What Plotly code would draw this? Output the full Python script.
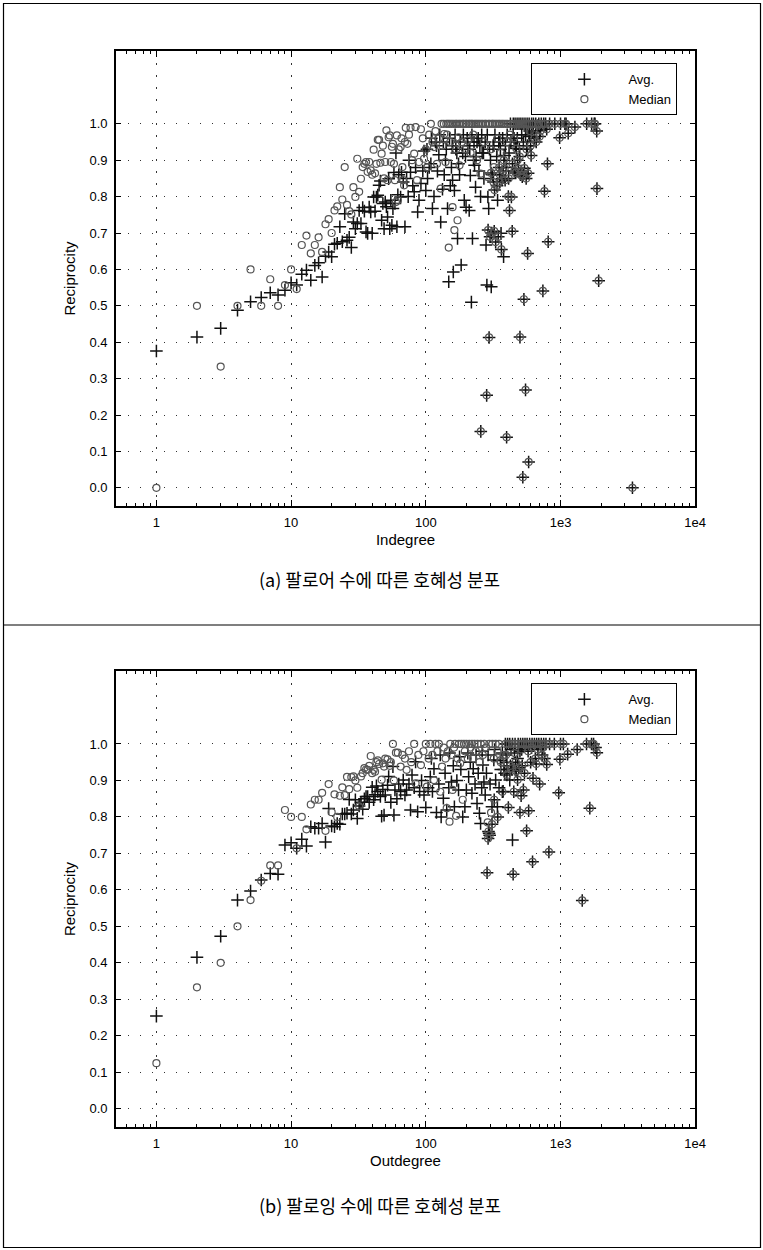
import math
import plotly.graph_objects as go

# ---------------- data (degree, reciprocity) ----------------
# Panel (a): Indegree
AVG_A = [
    (1, 0.376), (2, 0.414), (3, 0.438), (4, 0.488), (5, 0.511), (6, 0.523), (7, 0.536), (8, 0.530), (9, 0.543), (10, 0.563),
    (11, 0.557), (12, 0.587), (13, 0.598), (14, 0.570), (15, 0.611), (16, 0.618), (17, 0.579), (18, 0.636), (19, 0.648), (20, 0.635),
    (21, 0.669), (22, 0.672), (23, 0.717), (24, 0.676), (25, 0.753), (26, 0.680), (27, 0.688), (28, 0.660), (29, 0.730), (30, 0.712),
    (31, 0.726), (32, 0.762), (33, 0.726), (34, 0.770), (35, 0.760), (36, 0.703), (37, 0.699), (38, 0.771), (39, 0.758), (40, 0.699),
    (41, 0.799), (42, 0.760), (43, 0.799), (44, 0.804), (45, 0.831), (46, 0.843), (47, 0.735), (48, 0.781), (49, 0.712), (50, 0.785),
    (51, 0.772), (52, 0.744), (53, 0.849), (54, 0.712), (55, 0.790), (56, 0.721), (57, 0.767), (58, 0.866), (59, 0.781), (60, 0.920),
    (61, 0.717), (62, 0.805), (63, 0.860), (65, 0.799), (66, 0.867), (68, 0.840), (70, 0.717), (72, 0.850), (74, 0.800), (75, 0.900),
    (77, 0.867), (80, 0.830), (82, 0.813), (84, 0.880), (87, 0.758), (89, 0.790), (92, 0.836), (95, 0.870), (97, 0.925), (100, 0.817),
    (102, 0.930), (103, 0.850), (106, 0.880), (109, 0.890), (110, 0.960), (112, 0.767), (115, 0.800), (118, 0.950), (120, 0.940), (122, 0.870),
    (125, 0.915), (127, 0.970), (129, 0.730), (133, 0.820), (135, 0.950), (137, 0.860), (140, 0.900), (142, 0.930), (145, 0.767), (148, 0.566),
    (150, 0.960), (152, 0.830), (155, 0.880), (157, 0.940), (158, 0.845), (160, 0.593), (163, 0.817), (165, 0.970), (167, 0.930), (170, 0.920),
    (172, 0.685), (175, 0.890), (178, 0.860), (180, 0.950), (183, 0.612), (188, 0.920), (190, 0.970), (193, 0.790), (197, 0.910), (199, 0.771),
    (203, 0.960), (205, 0.940), (210, 0.762), (212, 0.930), (214, 0.858), (218, 0.510), (220, 0.970), (222, 0.685), (226, 0.900), (228, 0.950),
    (230, 0.886), (234, 0.826), (236, 0.910), (240, 0.950), (245, 0.960), (248, 0.870), (252, 0.940), (255, 0.800), (260, 0.970), (262, 0.920),
    (268, 0.920), (270, 0.850), (276, 0.950), (280, 0.667), (284, 0.557), (286, 0.970), (289, 0.799), (293, 0.767), (297, 0.930), (302, 0.900),
    (306, 0.552), (312, 0.860), (316, 0.940), (320, 0.940), (326, 0.970), (336, 0.910), (341, 0.790), (348, 0.950), (352, 0.960), (358, 0.930),
    (362, 0.699), (368, 0.849), (372, 0.960), (378, 0.635), (385, 0.913), (390, 0.940), (395, 0.880), (402, 0.970), (415, 0.920), (428, 0.950),
    (445, 0.970), (462, 0.940), (478, 0.960), (495, 0.930), (515, 0.970), (530, 0.950), (550, 0.970), (568, 0.940), (585, 0.965), (620, 0.975),
]
MED_A = [
    (1, 0.000), (2, 0.500), (3, 0.333), (4, 0.500), (5, 0.600), (6, 0.500), (7, 0.573), (8, 0.500), (9, 0.557), (10, 0.600),
    (11, 0.546), (12, 0.667), (13, 0.693), (14, 0.644), (15, 0.667), (16, 0.688), (17, 0.648), (18, 0.724), (19, 0.738), (20, 0.700),
    (21, 0.762), (22, 0.773), (23, 0.826), (24, 0.792), (25, 0.881), (26, 0.777), (27, 0.760), (28, 0.751), (29, 0.826), (30, 0.799),
    (31, 0.904), (32, 0.813), (33, 0.849), (34, 0.881), (35, 0.890), (36, 0.895), (37, 0.868), (38, 0.895), (39, 0.872), (40, 0.860),
    (41, 0.929), (42, 0.864), (43, 0.890), (44, 0.956), (45, 0.956), (46, 0.893), (47, 0.918), (48, 0.940), (49, 0.850), (50, 0.895),
    (51, 0.982), (52, 0.845), (53, 0.963), (54, 0.968), (55, 0.895), (56, 0.937), (57, 0.945), (58, 0.890), (59, 0.845), (60, 0.785),
    (61, 0.968), (62, 0.790), (63, 0.930), (65, 0.936), (66, 0.960), (67, 0.881), (68, 0.845), (69, 0.831), (70, 0.950), (71, 0.989),
    (73, 0.945), (75, 0.970), (77, 0.989), (79, 0.900), (82, 0.918), (84, 0.991), (86, 0.845), (89, 0.895), (92, 0.985), (95, 0.960),
    (97, 0.904), (100, 0.930), (103, 0.881), (106, 0.970), (109, 1.000), (112, 0.950), (115, 0.936), (118, 0.980), (121, 0.890), (125, 0.960),
    (129, 0.822), (131, 1.000), (133, 0.940), (136, 1.000), (137, 0.972), (140, 0.895), (142, 1.000), (144, 0.970), (146, 1.000), (148, 0.660),
    (150, 1.000), (152, 0.950), (155, 1.000), (158, 0.771), (160, 1.000), (163, 0.708), (166, 1.000), (168, 0.930), (170, 1.000), (172, 0.735),
    (175, 0.963), (176, 1.000), (178, 0.886), (181, 1.000), (185, 0.950), (188, 1.000), (191, 1.000), (195, 0.930), (198, 1.000), (201, 1.000),
    (205, 0.954), (208, 1.000), (212, 1.000), (215, 0.920), (218, 1.000), (222, 1.000), (225, 0.970), (230, 1.000), (236, 1.000), (240, 0.900),
    (243, 1.000), (250, 1.000), (255, 0.863), (258, 1.000), (265, 1.000), (270, 0.950), (275, 1.000), (280, 1.000), (288, 0.854), (292, 1.000),
    (298, 1.000), (304, 0.930), (310, 1.000), (315, 1.000), (320, 0.881), (325, 1.000), (335, 1.000), (340, 0.960), (346, 1.000), (355, 1.000),
    (360, 0.920), (367, 1.000), (378, 1.000), (385, 0.877), (392, 1.000), (400, 0.950), (405, 1.000), (420, 0.970),
]
# degrees where average and median coincide (drawn by both series)
BOTH_A = [
    (256, 0.155), (283, 0.254), (290, 0.708), (295, 0.413), (300, 0.690), (308, 0.700), (322, 0.705), (330, 0.675), (345, 0.690), (364, 0.655),
    (398, 0.139), (410, 0.800), (418, 0.762), (425, 1.000), (432, 0.799), (438, 0.705), (446, 1.000), (452, 0.960), (460, 1.000), (470, 0.932),
    (476, 1.000), (480, 0.900), (488, 0.877), (492, 1.000), (500, 0.414), (504, 0.860), (508, 1.000), (512, 0.870), (520, 0.855), (525, 0.029),
    (526, 1.000), (535, 0.518), (540, 0.878), (545, 1.000), (550, 0.269), (556, 0.850), (565, 1.000), (570, 0.644), (575, 0.864), (580, 0.071),
    (585, 1.000), (590, 0.980), (605, 0.913), (610, 1.000), (630, 1.000), (640, 0.960), (655, 1.000), (680, 0.995), (690, 1.000), (710, 0.981),
    (720, 1.000), (740, 0.541), (750, 1.000), (760, 0.815), (775, 1.000), (790, 0.985), (800, 0.890), (810, 0.676), (830, 1.000), (907, 1.000),
    (985, 0.962), (1000, 1.000), (1077, 1.000), (1100, 1.000), (1141, 0.974), (1279, 0.991), (1564, 1.000), (1703, 1.000), (1780, 1.000), (1804, 1.000),
    (1857, 0.980), (1865, 0.822), (1920, 0.569), (3420, 0.000),
    (305, 0.865), (318, 0.840), (338, 0.830), (355, 0.860), (375, 0.870), (388, 0.845), (412, 0.850), (455, 0.870), (465, 0.865), (530, 0.860),
    (350, 0.880), (380, 0.900), (440, 0.890), (498, 0.910), (560, 0.930), (600, 0.940), (660, 0.950), (700, 0.965), (324, 0.818), (352, 0.840),
]

# Panel (b): Outdegree
AVG_B = [
    (1, 0.254), (2, 0.415), (3, 0.473), (4, 0.572), (5, 0.597), (6, 0.627), (7, 0.645), (8, 0.643), (9, 0.723), (10, 0.729),
    (11, 0.714), (12, 0.739), (13, 0.720), (14, 0.773), (15, 0.769), (16, 0.769), (17, 0.782), (18, 0.731), (19, 0.823), (20, 0.775),
    (21, 0.773), (22, 0.782), (23, 0.780), (24, 0.808), (25, 0.808), (26, 0.810), (27, 0.848), (28, 0.808), (29, 0.819), (30, 0.847),
    (31, 0.796), (32, 0.830), (33, 0.840), (34, 0.821), (35, 0.850), (36, 0.856), (37, 0.856), (38, 0.840), (40, 0.881), (41, 0.847),
    (42, 0.861), (43, 0.885), (44, 0.870), (46, 0.856), (47, 0.802), (48, 0.875), (49, 0.805), (50, 0.860), (52, 0.887), (53, 0.911),
    (55, 0.840), (57, 0.938), (58, 0.805), (59, 0.874), (61, 0.850), (63, 0.890), (65, 0.870), (68, 0.901), (70, 0.860), (72, 0.874),
    (75, 0.890), (77, 0.819), (79, 0.915), (82, 0.880), (84, 0.951), (87, 0.814), (90, 0.870), (93, 0.900), (97, 0.860), (100, 0.826),
    (104, 0.880), (108, 0.910), (110, 0.960), (112, 0.870), (115, 0.932), (120, 0.812), (125, 0.890), (128, 0.970), (130, 0.800), (135, 0.851),
    (139, 0.920), (143, 0.819), (148, 0.880), (150, 0.975), (155, 0.896), (160, 0.940), (163, 0.828), (170, 0.900), (175, 0.874), (178, 0.965),
    (182, 0.930), (188, 0.800), (195, 0.828), (200, 0.874), (205, 0.975), (208, 0.910), (214, 0.950), (220, 0.865), (225, 0.932), (232, 0.890),
    (236, 0.970), (240, 0.837), (245, 0.920), (250, 0.810), (255, 0.782), (260, 0.880), (262, 0.980), (265, 0.942), (270, 0.896), (276, 0.860),
    (282, 0.920), (290, 0.970), (295, 0.755), (300, 0.890), (310, 0.828), (320, 0.956), (325, 0.985), (330, 0.901), (340, 0.828), (350, 0.880),
    (360, 0.930), (370, 0.975), (375, 0.870), (385, 0.920), (400, 0.950), (420, 0.901), (430, 0.985), (440, 0.737), (460, 0.930), (480, 0.960),
    (500, 0.980),
]
MED_B = [
    (1, 0.125), (2, 0.333), (3, 0.400), (4, 0.500), (5, 0.572), (6, 0.625), (7, 0.667), (8, 0.667), (9, 0.819), (10, 0.800),
    (11, 0.714), (12, 0.800), (13, 0.766), (14, 0.834), (15, 0.847), (16, 0.847), (17, 0.866), (18, 0.762), (19, 0.890), (20, 0.813),
    (21, 0.862), (22, 0.800), (23, 0.858), (24, 0.881), (25, 0.860), (26, 0.910), (27, 0.876), (28, 0.909), (29, 0.911), (30, 0.900),
    (31, 0.880), (32, 0.829), (33, 0.911), (34, 0.920), (35, 0.934), (36, 0.930), (37, 0.929), (38, 0.940), (39, 0.967), (40, 0.920),
    (41, 0.929), (42, 0.924), (43, 0.950), (44, 0.955), (45, 0.945), (47, 0.902), (48, 0.947), (49, 0.938), (50, 0.960), (52, 0.958),
    (54, 0.940), (55, 0.950), (57, 1.000), (58, 0.900), (60, 0.976), (62, 0.976), (65, 0.938), (67, 0.970), (70, 0.960), (72, 0.929),
    (75, 0.980), (78, 0.950), (82, 1.000), (84, 0.892), (88, 0.970), (92, 0.942), (96, 0.980), (100, 1.000), (102, 0.883), (105, 0.960),
    (108, 1.000), (112, 0.970), (115, 0.901), (118, 1.000), (122, 0.980), (125, 1.000), (128, 0.869), (132, 0.938), (136, 0.990), (140, 0.960),
    (143, 0.824), (146, 0.980), (150, 0.787), (152, 1.000), (155, 0.970), (158, 0.874), (162, 0.990), (165, 1.000), (168, 0.803), (172, 0.960),
    (176, 1.000), (180, 0.947), (184, 1.000), (188, 0.847), (192, 1.000), (195, 0.980), (200, 1.000), (205, 0.960), (210, 1.000), (215, 0.990),
    (220, 1.000), (225, 0.960), (230, 1.000), (235, 0.980), (242, 1.000), (250, 0.950), (256, 1.000), (265, 0.970), (272, 1.000), (280, 0.990),
    (288, 0.785), (296, 1.000), (305, 0.812), (312, 1.000), (320, 0.960), (330, 1.000), (340, 0.980), (350, 1.000), (360, 0.950), (380, 0.970),
]
BOTH_B = [
    (285, 0.647), (290, 0.741), (292, 0.760), (298, 0.750), (310, 0.780), (322, 0.847), (342, 0.800), (358, 0.955), (370, 0.869), (390, 1.000),
    (405, 1.000), (410, 0.826), (420, 1.000), (435, 0.933), (440, 1.000), (445, 0.643), (450, 0.869), (460, 1.000), (480, 0.902), (485, 1.000),
    (500, 0.812), (505, 1.000), (510, 0.858), (525, 1.000), (530, 0.874), (545, 1.000), (560, 0.762), (565, 1.000), (580, 0.817), (590, 1.000),
    (615, 1.000), (620, 0.677), (625, 0.906), (640, 1.000), (665, 1.000), (690, 1.000), (700, 0.890), (720, 1.000), (750, 1.000), (780, 1.000),
    (790, 0.944), (820, 0.704), (830, 1.000), (900, 1.000), (970, 0.866), (990, 0.958), (1000, 1.000), (1050, 1.000), (1130, 0.972), (1330, 0.985),
    (1450, 0.571), (1560, 1.000), (1650, 0.824), (1700, 1.000), (1760, 1.000), (1820, 0.990), (1860, 0.976),
    (380, 0.930), (400, 0.915), (425, 0.940), (465, 0.950), (470, 0.925), (490, 0.935), (520, 0.940), (540, 0.920), (600, 0.950), (650, 0.960),
    (660, 0.945), (730, 0.970), (760, 0.960), (395, 0.970), (455, 0.975), (515, 0.985), (575, 0.980), (610, 0.990), (680, 0.985), (740, 0.990),
]

X_TICKS = [1, 10, 100, 1000, 10000]
X_TICK_TEXT = ["1", "10", "100", "1e3", "1e4"]
Y_TICKS = [0.0, 0.1, 0.2, 0.3, 0.4, 0.5, 0.6, 0.7, 0.8, 0.9, 1.0]
Y_TICK_TEXT = ["0.0", "0.1", "0.2", "0.3", "0.4", "0.5", "0.6", "0.7", "0.8", "0.9", "1.0"]
MINOR_MANTISSA = [2, 3, 4, 5, 6, 7, 8, 9]
DECADES = [1, 10, 100, 1000]
X_MINOR = [0.6, 0.7, 0.8, 0.9] + [d * m for d in DECADES for m in MINOR_MANTISSA]

CAPTION_A = "(a) 팔로어 수에 따른 호혜성 분포"
CAPTION_B = "(b) 팔로잉 수에 따른 호혜성 분포"

# ---------------- figure ----------------
REF_W, H = 763, 1250          # reference picture size (positions below are in its pixels)
FIG_W = 775                    # rendered width (page is captured slightly wider, then fitted)
FONT = "Liberation Sans, Arial, Helvetica, sans-serif"

fig = go.Figure()


def add_panel(avg, med, both, xa, ya, leg):
    ax = [p[0] for p in avg] + [p[0] for p in both]
    ay = [p[1] for p in avg] + [p[1] for p in both]
    mx = [p[0] for p in med] + [p[0] for p in both]
    my = [p[1] for p in med] + [p[1] for p in both]
    fig.add_trace(go.Scatter(
        x=ax, y=ay, mode="markers", name="Avg.", xaxis=xa, yaxis=ya, legend=leg,
        marker=dict(symbol="cross-thin", size=9, color="#111111",
                    line=dict(width=1.5, color="#111111")),
        cliponaxis=False,
    ))
    fig.add_trace(go.Scatter(
        x=mx, y=my, mode="markers", name="Median", xaxis=xa, yaxis=ya, legend=leg,
        marker=dict(symbol="circle-open", size=7, color="#555555",
                    line=dict(width=1.2, color="#555555")),
        cliponaxis=False,
    ))


add_panel(AVG_A, MED_A, BOTH_A, "x", "y", "legend")
add_panel(AVG_B, MED_B, BOTH_B, "x2", "y2", "legend2")

px_x = lambda v: v / REF_W
px_y = lambda v: 1 - v / H

x_dom = [px_x(115.7), px_x(694.3)]
dom_a = [px_y(506), px_y(51)]
dom_b = [px_y(1127), px_y(671)]

grid_dash = "1.5px,10.5px"


def xaxis_cfg(title, yref):
    return dict(
        domain=x_dom, anchor=yref, type="log",
        range=[math.log10(0.5), 4],
        tickvals=X_TICKS, ticktext=X_TICK_TEXT,
        ticks="inside", ticklen=6, tickwidth=1, tickcolor="black",
        showline=True, linecolor="black", linewidth=1.5, mirror="allticks",
        showgrid=True, gridcolor="#333333", gridwidth=1, griddash=grid_dash,
        minor=dict(tickvals=X_MINOR, ticks="inside", ticklen=3, tickcolor="black", showgrid=False),
        tickfont=dict(family=FONT, size=13, color="black"),
        ticklabelstandoff=4,
        title=dict(text=title, font=dict(family=FONT, size=15, color="black"), standoff=5),
        zeroline=False,
    )


def yaxis_cfg(dom, xref):
    return dict(
        domain=dom, anchor=xref, range=[-0.05, 1.2],
        tickvals=Y_TICKS, ticktext=Y_TICK_TEXT,
        ticks="inside", ticklen=5, tickwidth=1, tickcolor="black",
        showline=True, linecolor="black", linewidth=1.5, mirror="allticks",
        showgrid=True, gridcolor="#333333", gridwidth=1, griddash=grid_dash,
        tickfont=dict(family=FONT, size=13, color="black"),
        ticklabelstandoff=4,
        title=dict(text="Reciprocity", font=dict(family=FONT, size=15, color="black"), standoff=10),
        zeroline=False,
    )


legend_common = dict(
    xanchor="left", yanchor="top", bgcolor="white", bordercolor="black", borderwidth=1,
    font=dict(family=FONT, size=13, color="black"), itemwidth=78, indentation=8,
    tracegroupgap=0,
)

fig.update_layout(
    width=FIG_W, height=H, autosize=False,
    margin=dict(l=0, r=0, t=0, b=0),
    paper_bgcolor="white", plot_bgcolor="white",
    font=dict(family=FONT, color="black"),
    xaxis=xaxis_cfg("Indegree", "y"),
    yaxis=yaxis_cfg(dom_a, "x"),
    xaxis2=xaxis_cfg("Outdegree", "y2"),
    yaxis2=yaxis_cfg(dom_b, "x2"),
    legend=dict(x=px_x(530.7), y=px_y(63.3), **legend_common),
    legend2=dict(x=px_x(530.7), y=px_y(683.3), **legend_common),
    showlegend=True,
)

# captions
for text, ypx in [(CAPTION_A, 579), (CAPTION_B, 1205)]:
    fig.add_annotation(
        text=text, xref="paper", yref="paper", x=0.497, y=px_y(ypx),
        xanchor="center", yanchor="middle", showarrow=False,
        font=dict(family="Noto Sans CJK KR, sans-serif", size=18, color="black"),
    )

# outer frame and separator
fig.add_shape(type="rect", xref="paper", yref="paper",
              x0=px_x(3.5), x1=px_x(759.5), y0=px_y(1247.5), y1=px_y(3.5),
              line=dict(color="black", width=1.2))
fig.add_shape(type="line", xref="paper", yref="paper",
              x0=px_x(3.5), x1=px_x(759.5), y0=px_y(625), y1=px_y(625),
              line=dict(color="black", width=1.2))

fig.write_html(
    "out.html",
    config={"displayModeBar": False, "responsive": False},
    post_script="document.body.style.margin='0';document.body.style.overflow='hidden';",
)
